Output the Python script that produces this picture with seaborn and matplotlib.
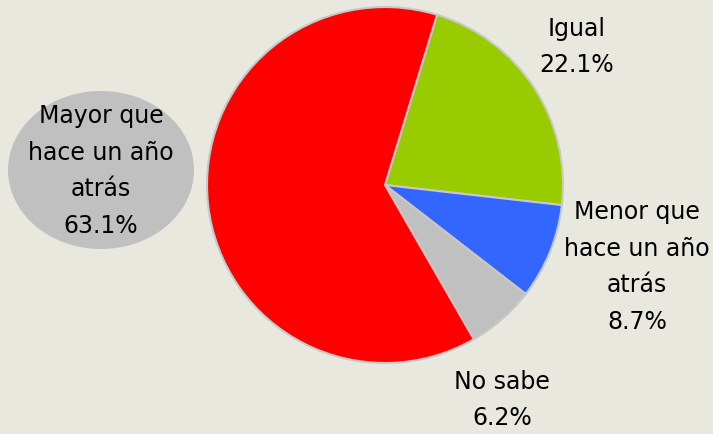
import matplotlib
matplotlib.use("Agg")
import matplotlib.pyplot as plt
import seaborn as sns
from matplotlib.patches import Ellipse

categories = ["Igual", "Menor que\nhace un año\natrás", "No sabe", "Mayor que\nhace un año\natrás"]
values = [22.1, 8.7, 6.2, 63.1]
colors = ["#99CC00", "#3366FF", "#C0C0C0", "#FF0000"]

bg = "#E8E8DE"
sns.set_style("white", {"axes.facecolor": bg, "figure.facecolor": bg})
plt.rcParams['font.family'] = ['DejaVu Sans']

W, H = 713, 434
fig = plt.figure(figsize=(W / 100, H / 100), dpi=100)
ax = fig.add_axes([0, 0, 1, 1])

cx, cy, r = 385, H - 185, 178
ax.pie(values, colors=colors, startangle=73, counterclock=False,
       center=(cx, cy), radius=r, frame=True,
       wedgeprops=dict(edgecolor="#C8C8C8", linewidth=1.5))
ax.set_xlim(0, W)
ax.set_ylim(0, H)
ax.set_aspect("auto")
ax.axis("off")

fs = 17
ls = 1.65
def lab(x, y, i):
    ax.text(x, H - y, f"{categories[i]}\n{values[i]:.1f}%", ha="center", va="center",
            fontsize=fs, linespacing=ls, color="black")

ax.add_patch(Ellipse((101, H - 170), 186, 158, facecolor="#C0C0C0", edgecolor="none"))
lab(101, 171, 3)
lab(577, 47, 0)
lab(637, 267, 1)
lab(502, 400, 2)

fig.savefig("out.png", dpi=100, facecolor=bg)
